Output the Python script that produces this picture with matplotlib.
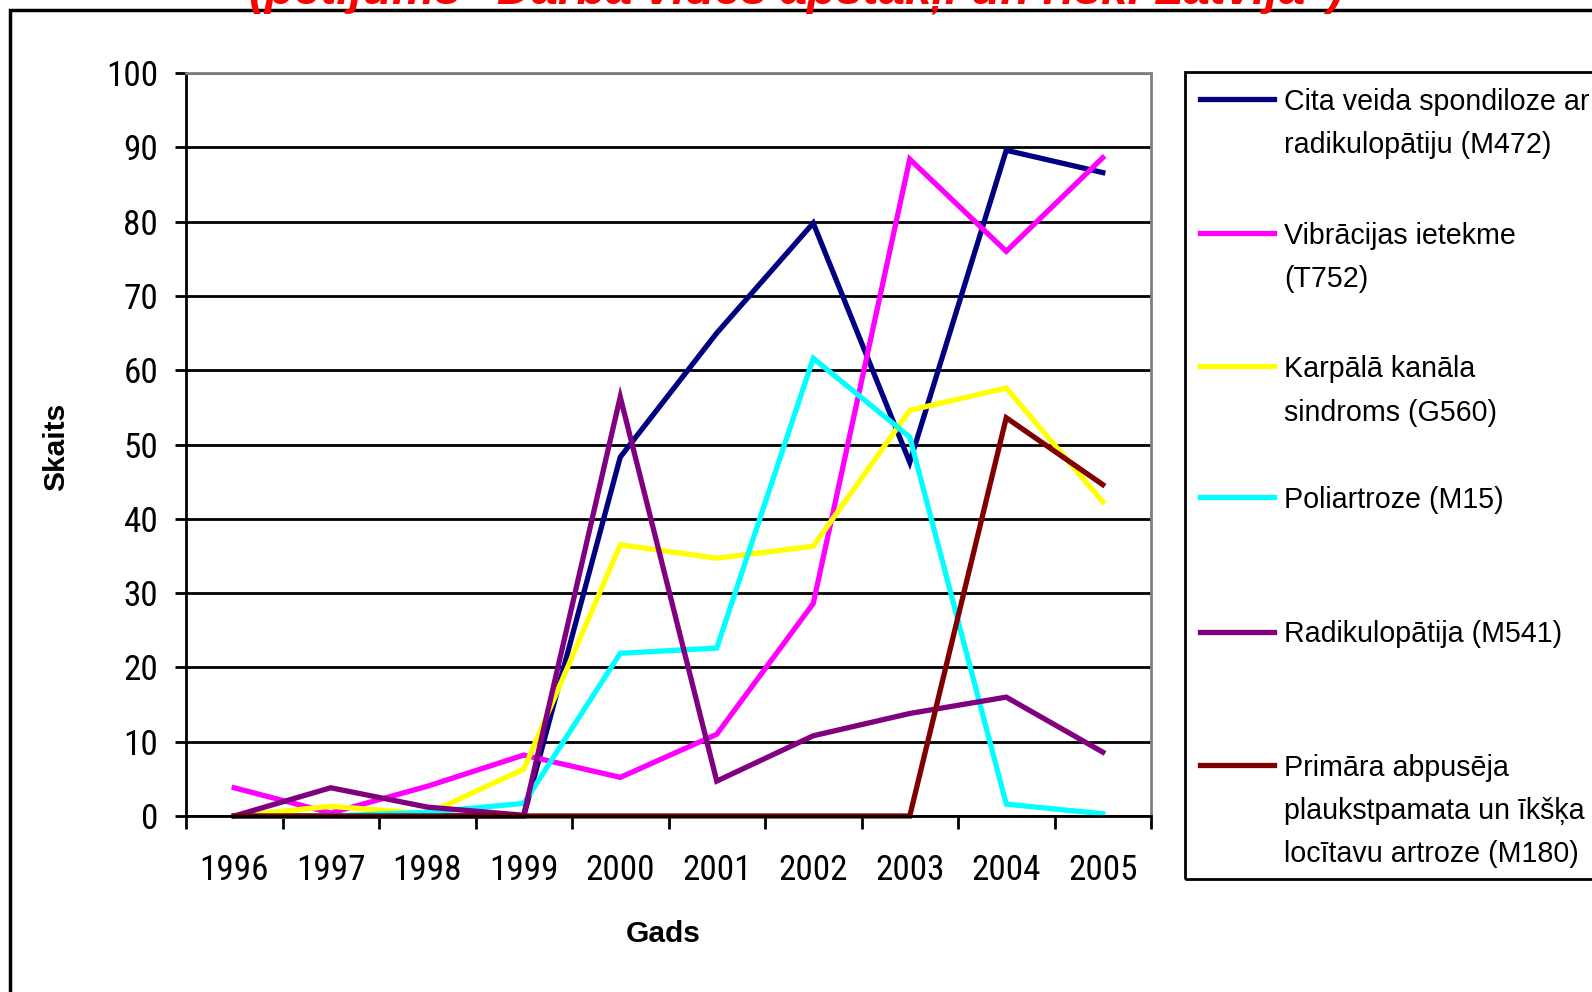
import numpy as np
import matplotlib
matplotlib.use("Agg")
import matplotlib.pyplot as plt
from matplotlib import font_manager as fm
from matplotlib.lines import Line2D
from matplotlib.patches import Rectangle

years = ["1996", "1997", "1998", "1999", "2000", "2001", "2002", "2003", "2004", "2005"]

m472 = [0, 0, 0, 0, 48.3, 65, 79.8, 47.6, 89.6, 86.6]
t752 = [3.8, 0.4, 4, 8.2, 5.2, 11, 28.6, 88.4, 76, 88.6]
g560 = [0, 1.3, 0.3, 6.3, 36.5, 34.7, 36.3, 54.6, 57.6, 42.3]
m15 = [0, 0, 0.5, 1.7, 21.9, 22.6, 61.6, 51, 1.6, 0.3]
m541 = [0, 3.8, 1.2, 0.1, 56.4, 4.7, 10.8, 13.8, 16, 8.6]
m180 = [0, 0, 0, 0, 0, 0, 0, 0, 53.6, 44.6]

series = [m472, t752, g560, m15, m541, m180]
labels = [
    "Cita veida spondiloze ar\nradikulopātiju (M472)",
    "Vibrācijas ietekme\n(T752)",
    "Karpālā kanāla\nsindroms (G560)",
    "Poliartroze (M15)",
    "Radikulopātija (M541)",
    "Primāra abpusēja\nplaukstpamata un īkšķa\nlocītavu artroze (M180)",
]
colors = ["#000080", "#FF00FF", "#FFFF00", "#00FFFF", "#800080", "#800000"]

title = '(pētījums "Darba vides apstākļi un riski Latvijā")'

W, H = 1592, 992
plt.rcParams["font.family"] = ["Liberation Sans", "DejaVu Sans"]

# look for a narrow font for the tick labels (Arial Narrow look)
names = {f.name for f in fm.fontManager.ttflist}
narrow = {"family": ["Liberation Sans", "DejaVu Sans"]}
for cand in ["Liberation Sans Narrow", "Arial Narrow", "Roboto Condensed",
             "Open Sans Condensed", "DejaVu Sans Condensed"]:
    if cand in names:
        narrow = {"family": [cand, "DejaVu Sans"]}
        break
else:
    for f in fm.fontManager.ttflist:
        if f.stretch in ("condensed", "semi-condensed") and f.style == "normal":
            narrow = {"family": [f.name, "DejaVu Sans"], "stretch": f.stretch}
            break

fig = plt.figure(figsize=(W / 100, H / 100), dpi=100)
renderer = fig.canvas.get_renderer()


def fit_size(s, target_px, **kw):
    # font size that makes text s about target_px wide
    t = fig.text(0, 0, s, fontsize=10, **kw)
    w = t.get_window_extent(renderer).width
    t.remove()
    return 10 * target_px / w


def fx(px):
    return px / W


def fy(py):
    return 1 - py / H


tick_fs = min(27, fit_size("1996", 69, **narrow))
legend_fs = fit_size("Poliartroze (M15)", 220)
axis_fs = fit_size("Gads", 75, fontweight="bold")
title_fs = fit_size(title, 1100, fontweight="bold", fontstyle="italic")

# plot area in pixels: left 186, right 1151, top 73, bottom 816
ax = fig.add_axes([fx(186), fy(816), fx(1151 - 186), (816 - 73) / H])

x = np.arange(len(years))
for vals, c in zip(series, colors):
    ax.plot(x, vals, color=c, lw=3.8, solid_joinstyle="miter", clip_on=False)

ax.set_xlim(-0.5, len(years) - 0.5)
ax.set_ylim(0, 100)
ax.set_yticks(np.arange(0, 101, 10))
ax.yaxis.grid(True, color="black", lw=2)
ax.set_axisbelow(True)

ax.set_xticks(np.arange(-0.5, len(years), 1))
ax.set_xticklabels([])
ax.set_xticks(x, minor=True)
ax.set_xticklabels(years, minor=True, fontsize=tick_fs, **narrow)
ax.tick_params(axis="x", which="major", length=9, width=2, direction="out")
ax.tick_params(axis="x", which="minor", length=0, pad=27)
ax.tick_params(axis="y", length=8, width=2, direction="out", pad=12)
ax.set_yticklabels([str(v) for v in range(0, 101, 10)], fontsize=tick_fs, **narrow)

ax.spines["left"].set_linewidth(2)
ax.spines["bottom"].set_linewidth(2)
for side in ("top", "right"):
    ax.spines[side].set_color("#808080")
    ax.spines[side].set_linewidth(2)

fig.text(fx(663), fy(934), "Gads", ha="center", va="center",
         fontsize=axis_fs, fontweight="bold")
fig.text(fx(56), fy(447), "Skaits", ha="center", va="center", rotation=90,
         fontsize=axis_fs, fontweight="bold")

# outer frame and title (title cut at top edge like the source)
fig.patches.append(Rectangle((fx(10), fy(H + 20)), fx(W), (H + 20 - 10) / H,
                             transform=fig.transFigure, fill=False,
                             edgecolor="black", lw=2.5))
fig.text(fx(796), fy(3), title, ha="center", va="baseline", color="red",
         fontsize=title_fs, fontweight="bold", fontstyle="italic")

# legend box drawn by hand
fig.patches.append(Rectangle((fx(1185), fy(879)), fx(W), (879 - 72) / H,
                             transform=fig.transFigure, fill=False,
                             edgecolor="black", lw=2))
entry_y = [98.5, 232.5, 366.5, 497.5, 631.5, 764.5]
for lab, c, ey in zip(labels, colors, entry_y):
    fig.lines.append(Line2D([fx(1200), fx(1274)], [fy(ey), fy(ey)],
                            transform=fig.transFigure, color=c, lw=3.8))
    for i, line in enumerate(lab.split("\n")):
        fig.text(fx(1284), fy(ey + i * 43.5), line, ha="left",
                 va="center_baseline", fontsize=legend_fs)

fig.savefig("out.png", dpi=100)
